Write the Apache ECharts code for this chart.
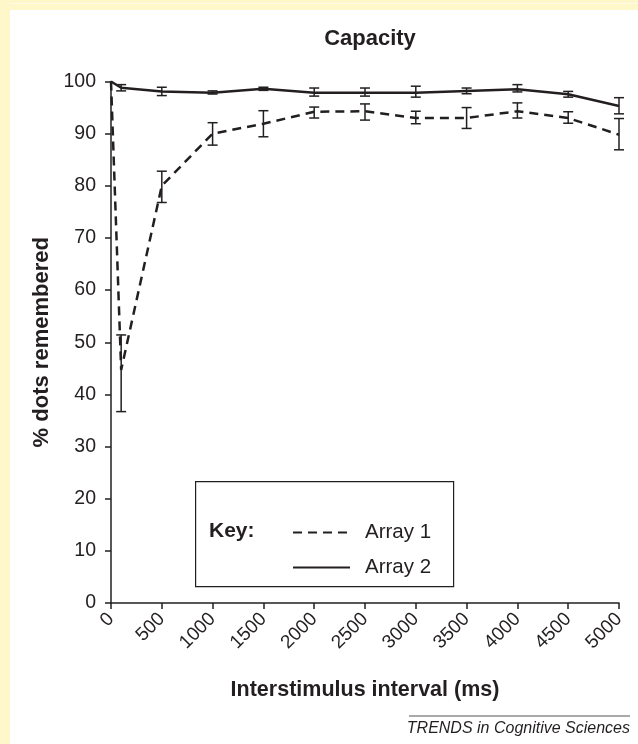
<!DOCTYPE html>
<html>
<head>
<meta charset="utf-8">
<script src="https://cdn.jsdelivr.net/npm/echarts@6/dist/echarts.min.js"></script>
<style>html,body{margin:0;padding:0;background:#fff;}#c{width:638px;height:744px;}</style>
</head>
<body>
<div id="c"></div>
<script>
const xValues = [0, 100, 500, 1000, 1500, 2000, 2500, 3000, 3500, 4000, 4500, 5000];
const array1 = [100, 44.7, 80, 90, 91.9, 94.2, 94.3, 93, 93, 94.3, 93, 89.8];
const array1Low = [null, 36.7, 76.8, 87.8, 89.4, 93.0, 92.6, 91.9, 91.0, 93.0, 92.0, 86.9];
const array1High = [null, 51.4, 82.8, 92.1, 94.4, 95.1, 95.7, 94.3, 95.0, 95.9, 94.2, 92.9];
const array2 = [100, 98.8, 98.1, 97.85, 98.6, 97.85, 97.85, 97.85, 98.2, 98.5, 97.55, 95.3];
const array2Low = [null, 98.2, 97.3, 97.6, 98.3, 97.2, 97.2, 97.0, 97.65, 98.0, 97.0, 93.8];
const array2High = [null, 99.4, 98.9, 98.2, 98.9, 98.75, 98.75, 99.1, 98.75, 99.4, 98.1, 96.9];
const seriesNames = ['Array 1', 'Array 2'];
const xTicks = [0, 500, 1000, 1500, 2000, 2500, 3000, 3500, 4000, 4500, 5000];

const INK = '#231f20';
const FONT = '"Liberation Sans", Arial, Helvetica, sans-serif';

function pairs(ys) { return xValues.map((x, i) => [x, ys[i]]); }
function errData(lo, hi) {
  const out = [];
  xValues.forEach((x, i) => { if (lo[i] != null) out.push([x, lo[i], hi[i]]); });
  return out;
}
function errRender(params, api) {
  const x = api.value(0);
  const lo = api.coord([x, api.value(1)]);
  const hi = api.coord([x, api.value(2)]);
  const w = 5;
  const style = { stroke: INK, lineWidth: 1.5, fill: null };
  return {
    type: 'group',
    children: [
      { type: 'line', shape: { x1: lo[0], y1: lo[1], x2: hi[0], y2: hi[1] }, style },
      { type: 'line', shape: { x1: lo[0] - w, y1: lo[1], x2: lo[0] + w, y2: lo[1] }, style },
      { type: 'line', shape: { x1: hi[0] - w, y1: hi[1], x2: hi[0] + w, y2: hi[1] }, style }
    ]
  };
}

const chart = echarts.init(document.getElementById('c'), null, { renderer: 'canvas' });
chart.setOption({
  animation: false,
  backgroundColor: '#ffffff',
  textStyle: { fontFamily: FONT },
  title: {
    text: 'Capacity', left: 365, top: 23, textAlign: 'center',
    textStyle: { fontFamily: FONT, fontSize: 22, fontWeight: 'bold', color: INK }
  },
  grid: { left: 111, right: 19, top: 81.5, bottom: 141, containLabel: false },
  xAxis: {
    type: 'value', min: 0, max: 5000, interval: 500,
    name: 'Interstimulus interval (ms)', nameLocation: 'middle', nameGap: 76,
    nameTextStyle: { fontFamily: FONT, fontSize: 21.5, fontWeight: 'bold', color: INK },
    axisLine: { show: true, lineStyle: { color: INK, width: 1.5 } },
    axisTick: { show: true, length: 6, lineStyle: { color: INK, width: 1.5 } },
    axisLabel: { rotate: 45, fontFamily: FONT, fontSize: 19, color: INK, margin: 13,
      formatter: v => (xTicks.indexOf(v) >= 0 ? String(v) : '') },
    splitLine: { show: false }
  },
  yAxis: {
    type: 'value', min: 0, max: 100, interval: 10,
    name: '% dots remembered', nameLocation: 'middle', nameGap: 55,
    nameTextStyle: { fontFamily: FONT, fontSize: 22, fontWeight: 'bold', color: INK },
    axisLine: { show: true, lineStyle: { color: INK, width: 1.5 } },
    axisTick: { show: true, length: 6, lineStyle: { color: INK, width: 1.5 } },
    axisLabel: { fontFamily: FONT, fontSize: 19.5, color: INK, margin: 15 },
    splitLine: { show: false }
  },
  legend: {
    data: seriesNames, orient: 'vertical', left: 292, top: 522, z: 20,
    itemWidth: 57, itemHeight: 20, itemGap: 14, padding: 0,
    itemStyle: { opacity: 0 },
    textStyle: { fontFamily: FONT, fontSize: 20.5, color: INK, padding: [0, 0, 0, 10] },
    selectedMode: false
  },
  series: [
    { name: seriesNames[0], type: 'line', data: pairs(array1), symbol: 'none',
      lineStyle: { color: INK, width: 2.5, type: [9, 6] }, itemStyle: { color: INK }, z: 3 },
    { name: seriesNames[1], type: 'line', data: pairs(array2), symbol: 'none',
      lineStyle: { color: INK, width: 2.5, type: 'solid' }, itemStyle: { color: INK }, z: 3 },
    { name: 'err1', type: 'custom', data: errData(array1Low, array1High), renderItem: errRender, z: 4 },
    { name: 'err2', type: 'custom', data: errData(array2Low, array2High), renderItem: errRender, z: 4 }
  ],
  graphic: [
    { type: 'rect', left: 0, top: 0, z: 0, shape: { width: 638, height: 10 }, style: { fill: '#fdf7c9' }, silent: true },
    { type: 'rect', left: 0, top: 3, z: 0, shape: { width: 638, height: 1 }, style: { fill: '#fffbe6' }, silent: true },
    { type: 'rect', left: 0, top: 0, z: 0, shape: { width: 10, height: 744 }, style: { fill: '#fdf7c9' }, silent: true },
    { type: 'rect', left: 195, top: 481, shape: { width: 258, height: 105 },
      style: { fill: '#ffffff', stroke: INK, lineWidth: 1.2 }, z: 1, silent: true },
    { type: 'text', left: 209, top: 521, z: 10,
      style: { text: 'Key:', fontFamily: FONT, fontSize: 21, fontWeight: 'bold', fill: INK } },
    { type: 'line', shape: { x1: 409, y1: 716, x2: 630, y2: 716 }, style: { stroke: '#555', lineWidth: 1 }, z: 10 },
    { type: 'text', right: 8, top: 721, z: 10,
      style: { text: 'TRENDS in Cognitive Sciences', fontFamily: FONT, fontSize: 16, fontStyle: 'italic', fill: INK } }
  ]
});
</script>
</body>
</html>
